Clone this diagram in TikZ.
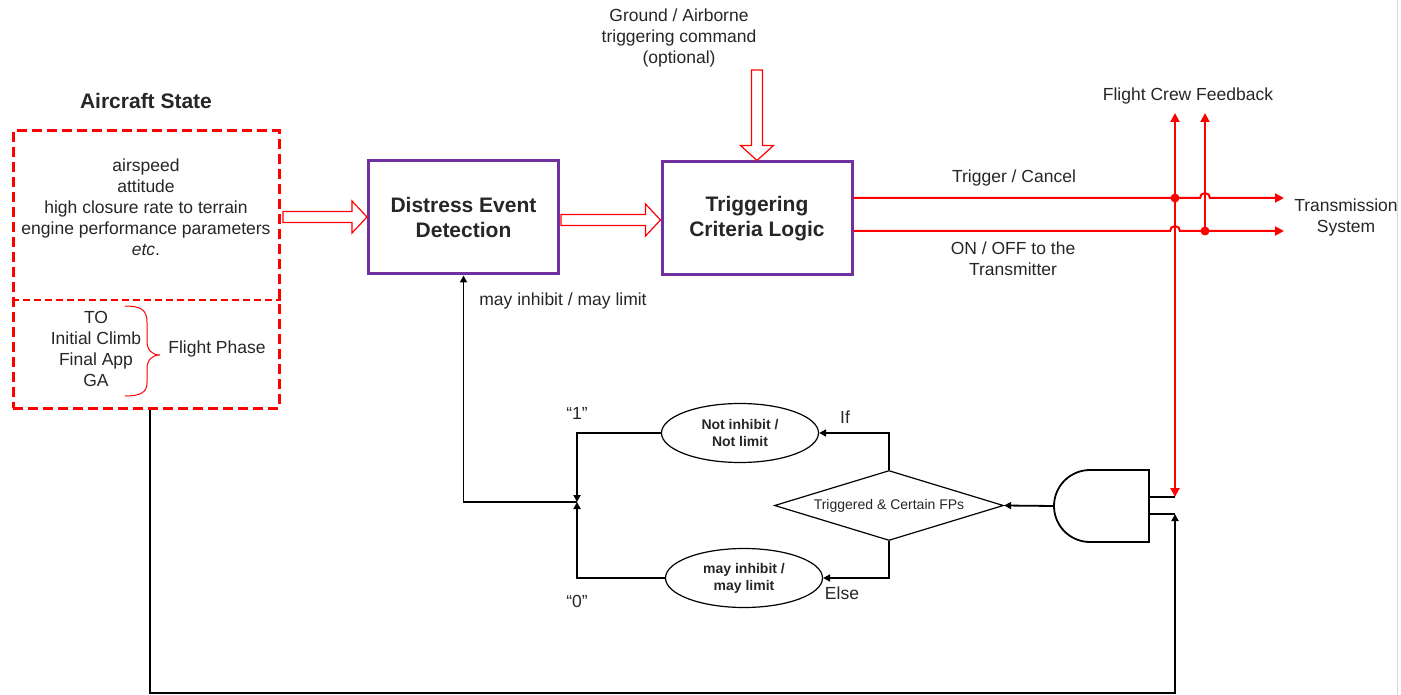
\documentclass[tikz,border=0pt]{standalone}
\usepackage{fontspec}
\setmainfont{Liberation Sans}
\usepackage{xcolor}
\usepackage{tikz}
\usetikzlibrary{arrows,arrows.meta,calc,shapes.geometric}
\definecolor{boxpurple}{RGB}{112,48,160}
\newcommand{\hollowright}[2]{%
  \draw[hollow] let \p1=(#1), \p2=(#2) in
    (\x1,\y1+5.5pt) -- (\x2-15pt,\y1+5.5pt) -- (\x2-15pt,\y1+16pt) -- (\x2,\y1)
    -- (\x2-15pt,\y1-16pt) -- (\x2-15pt,\y1-5.5pt) -- (\x1,\y1-5.5pt) -- cycle;}
\newcommand{\hollowdown}[2]{%
  \draw[hollow] let \p1=(#1), \p2=(#2) in
    (\x1-5.5pt,\y1) -- (\x1-5.5pt,\y2+15pt) -- (\x1-16.5pt,\y2+15pt) -- (\x1,\y2)
    -- (\x1+16.5pt,\y2+15pt) -- (\x1+5.5pt,\y2+15pt) -- (\x1+5.5pt,\y1) -- cycle;}

\begin{document}
\begin{tikzpicture}[x=1pt,y=-1pt,
  every node/.style={font=\fontsize{17.5}{21}\selectfont, text=black!85, align=center},
  titlefont/.style={font=\fontsize{21}{25}\selectfont\bfseries},
  procbox/.style={draw=boxpurple, line width=3pt, inner sep=0pt, minimum width=190pt, minimum height=113pt, titlefont},
  statebox/.style={draw=red, line width=3pt, dash pattern=on 10pt off 5pt},
  hollow/.style={draw=red, line width=1.2pt, fill=white},
  redwire/.style={draw=red, line width=2pt},
  redtip/.style={-{Triangle[length=9pt,width=9pt]}},
  wire/.style={draw=black, line width=1.8pt},
  tip/.style={-{Triangle[length=7pt,width=7pt]}},
  choice/.style={ellipse, draw, line width=1.2pt, inner sep=0pt, minimum width=157pt, minimum height=59pt, font=\fontsize{14}{17}\selectfont\bfseries},
  test/.style={diamond, draw, line width=1.2pt, inner sep=0pt, aspect=3.3, minimum width=229pt, minimum height=70pt, font=\fontsize{14}{17}\selectfont}
]
\useasboundingbox (0,0) rectangle (1401,695);
\draw[black!15, line width=1pt] (1397,0) -- (1397,695);

\node[titlefont] (statetitle) at (146,101) {Aircraft State};
\node[statebox, inner sep=0pt, minimum width=266pt, minimum height=277pt] (state) at (146,269.5) {};
\draw[statebox, line width=2pt, dash pattern=on 7pt off 4pt] (state.west |- 0,300) -- (state.east |- 0,300);
\node (params) at (146,207) {airspeed\\attitude\\high closure rate to terrain\\engine performance parameters\\\textit{etc}.};
\node (phases) at (96,348.5) {TO\\Initial Climb\\Final App\\GA};
\draw[red, line width=1pt] (125,306) .. controls (141,306) and (147,310) .. (147,322) -- (147,341)
  .. controls (147,350) and (152,355) .. (160,355) .. controls (152,355) and (147,360) .. (147,369)
  -- (147,383) .. controls (147,392) and (141,396) .. (125,396);
\node (phase) at (217,349) {Flight Phase};

\node[procbox] (ded) at (463.5,217.5) {Distress Event\\Detection};
\node[procbox] (tcl) at (757,218.5) {Triggering\\Criteria Logic};
\node (cmd) at (679,38) {Ground / Airborne\\triggering command\\(optional)};

\hollowright{283,217}{ded.west}
\hollowright{561,220}{tcl.west |- 0,220}
\hollowdown{757,70}{tcl.north}

\coordinate (fb1) at (1175,113);
\coordinate (fb2) at (1205,113);
\coordinate (in1) at (1175,497);
\coordinate (in2) at (1175,514);
\coordinate (tx1) at (1284,198);
\coordinate (tx2) at (1284,231);
\draw[redwire, redtip] (tcl.east |- 0,198) -- (1200,198) arc[start angle=180, end angle=0, radius=5pt] -- (tx1);
\draw[redwire, redtip] (tcl.east |- 0,231) -- (1170,231) arc[start angle=180, end angle=0, radius=5pt] -- (tx2);
\draw[redwire, redtip] (fb1 |- 0,300) -- (fb1);
\draw[redwire, redtip] (fb1 |- 0,300) -- (in1);
\draw[redwire, redtip] (fb2 |- 0,231) -- (fb2);
\fill[red] (fb1 |- 0,198) circle[radius=4.5pt];
\fill[red] (fb2 |- 0,231) circle[radius=4.5pt];
\node (trig) at (1014,178) {Trigger / Cancel};
\node (onoff) at (1013,259) {ON / OFF to the\\Transmitter};
\node (crew) at (1188,96) {Flight Crew Feedback};
\node (trans) at (1346,217.5) {Transmission\\System};

\draw[wire] (1149,470) -- (1090,470) arc[start angle=90, end angle=270, radius=36pt] -- (1149,542) -- cycle;
\coordinate (andout) at (1054,506);
\draw[wire] (1149,497) -- (in1);
\draw[wire] (1149,514) -- (in2);
\draw[wire, tip] ([xshift=4pt]state.south) |- (in2 |- 0,693) -- (in2);

\node[test] (dec) at (889,505.5) {Triggered \& Certain FPs};
\node[choice] (notinh) at (740,433) {Not inhibit /\\Not limit};
\node[choice] (mayinh) at (744,578) {may inhibit /\\may limit};
\coordinate (junc) at (577,502);
\draw[wire, tip] (andout) -- (dec.east);
\draw[wire, tip] (dec.north) |- (notinh.east);
\draw[wire, tip] (dec.south) |- (mayinh.east);
\draw[wire, tip] (notinh.west) -| (junc);
\draw[wire, tip] (mayinh.west) -| (junc);
\draw[wire, tip] (junc) -| (ded.south);
\node (one) at (577,413) {“1”};
\node (zero) at (577,601) {“0”};
\node (if) at (845,417) {If};
\node (else) at (842,593) {Else};
\node (limit) at (563,301) {may inhibit / may limit};
\end{tikzpicture}
\end{document}
